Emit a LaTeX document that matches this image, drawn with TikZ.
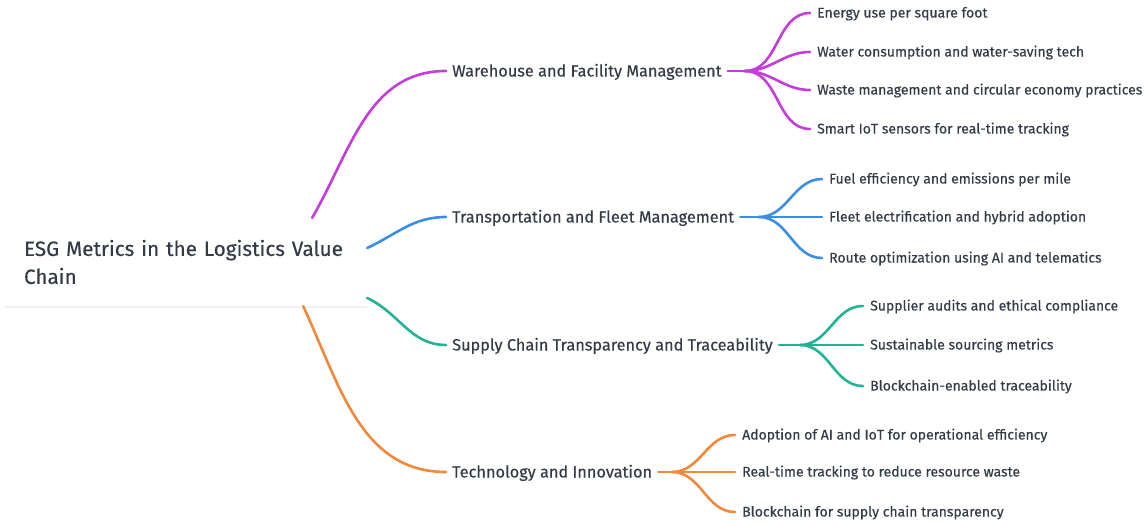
\documentclass[tikz,border=0pt]{standalone}
\usepackage{fontspec}
\setmainfont[FakeBold=0.35]{Fira Sans}
\usetikzlibrary{shadows}
\definecolor{txt}{HTML}{343B46}
\definecolor{wpurple}{HTML}{C43DDA}
\definecolor{fblue}{HTML}{3B8EE3}
\definecolor{steal}{HTML}{22B394}
\definecolor{torange}{HTML}{F0893A}

\begin{document}
\begin{tikzpicture}[x=1pt,y=-1pt,
    branch/.style={anchor=west,inner xsep=6pt,text=txt,text height=13pt,text depth=2pt,font=\fontsize{16.3}{18}\selectfont},
    leaf/.style={anchor=west,inner xsep=7pt,text=txt,text height=11pt,text depth=2pt,font=\fontsize{14}{16}\selectfont},
    link/.style={line width=2.6pt,line cap=round}]
        \useasboundingbox (0,0) rectangle (1146,522);

        % Root
        \node[fill=white,drop shadow={shadow xshift=0pt,shadow yshift=-1.5pt,opacity=0.12},
              text width=324pt,inner xsep=19pt,minimum height=88pt,align=left,text=txt,
              font=\fontsize{20.7}{28}\selectfont] (root) at (186,262)
              {ESG Metrics in the Logistics Value\\Chain};

        % Branches
        \node[branch] (wh) at (446,71) {Warehouse and Facility Management};
        \node[branch] (tr) at (446,217) {Transportation and Fleet Management};
        \node[branch] (sc) at (446,345) {Supply Chain Transparency and Traceability};
        \node[branch] (ti) at (446,472) {Technology and Innovation};

        \draw[link,wpurple] ([xshift=-55pt]root.north east) to[out=60,in=180] (wh.west);
        \draw[link,fblue] ([yshift=14pt]root.east) to[out=25,in=180] (tr.west);
        \draw[link,steal] ([yshift=-36pt]root.east) to[out=-25,in=180] (sc.west);
        \draw[link,torange] ([xshift=-64pt]root.south east) to[out=-65,in=180] (ti.west);

        % Warehouse and Facility Management
        \coordinate (whf) at (745,71);
        \node[leaf] (wh1) at (810,13) {Energy use per square foot};
        \node[leaf] (wh2) at (810,52) {Water consumption and water-saving tech};
        \node[leaf] (wh3) at (810,90) {Waste management and circular economy practices};
        \node[leaf] (wh4) at (810,129) {Smart IoT sensors for real-time tracking};
        \draw[link,wpurple] (wh.east) -- (whf);
        \draw[link,wpurple] (whf) to[out=0,in=180] (wh1.west);
        \draw[link,wpurple] (whf) to[out=0,in=180] (wh2.west);
        \draw[link,wpurple] (whf) to[out=0,in=180] (wh3.west);
        \draw[link,wpurple] (whf) to[out=0,in=180] (wh4.west);

        % Transportation and Fleet Management
        \coordinate (trf) at (759,217);
        \node[leaf] (tr1) at (822,179) {Fuel efficiency and emissions per mile};
        \node[leaf] (tr2) at (822,217) {Fleet electrification and hybrid adoption};
        \node[leaf] (tr3) at (822,258) {Route optimization using AI and telematics};
        \draw[link,fblue] (tr.east) -- (trf);
        \draw[link,fblue] (trf) to[out=0,in=180] (tr1.west);
        \draw[link,fblue] (trf) to[out=0,in=180] (tr2.west);
        \draw[link,fblue] (trf) to[out=0,in=180] (tr3.west);

        % Supply Chain Transparency and Traceability
        \coordinate (scf) at (800,345);
        \node[leaf] (sc1) at (863,306) {Supplier audits and ethical compliance};
        \node[leaf] (sc2) at (863,345) {Sustainable sourcing metrics};
        \node[leaf] (sc3) at (863,386) {Blockchain-enabled traceability};
        \draw[link,steal] (sc.east) -- (scf);
        \draw[link,steal] (scf) to[out=0,in=180] (sc1.west);
        \draw[link,steal] (scf) to[out=0,in=180] (sc2.west);
        \draw[link,steal] (scf) to[out=0,in=180] (sc3.west);

        % Technology and Innovation
        \coordinate (tif) at (672,472);
        \node[leaf] (ti1) at (735,435) {Adoption of AI and IoT for operational efficiency};
        \node[leaf] (ti2) at (735,472) {Real-time tracking to reduce resource waste};
        \node[leaf] (ti3) at (735,512) {Blockchain for supply chain transparency};
        \draw[link,torange] (ti.east) -- (tif);
        \draw[link,torange] (tif) to[out=0,in=180] (ti1.west);
        \draw[link,torange] (tif) to[out=0,in=180] (ti2.west);
        \draw[link,torange] (tif) to[out=0,in=180] (ti3.west);
      \end{tikzpicture}
\end{document}
